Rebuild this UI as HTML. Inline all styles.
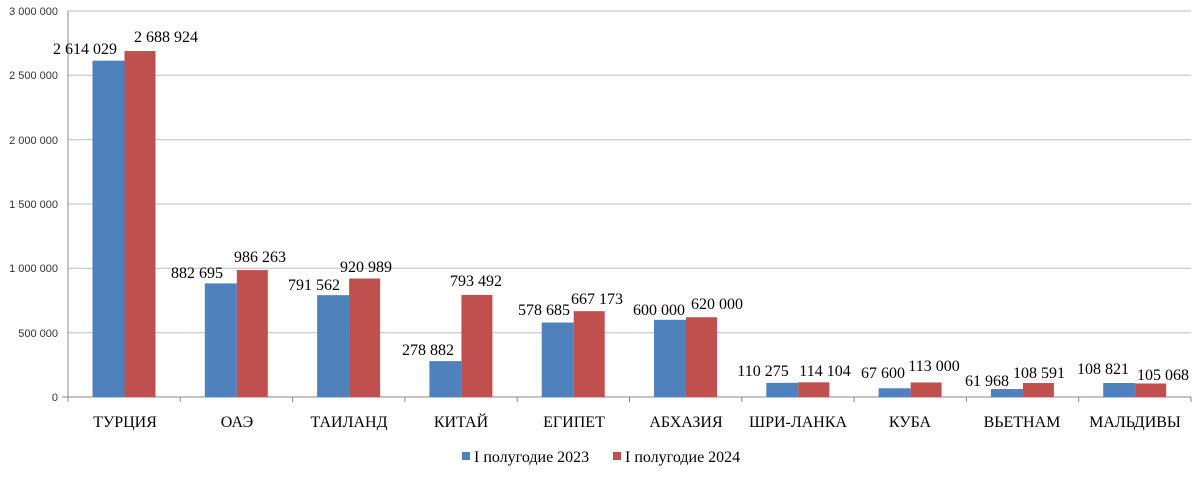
<!DOCTYPE html><html><head><meta charset="utf-8"><style>body{margin:0;background:#fff}text{font-family:"Liberation Serif",serif;font-size:16px;fill:#000}.y{font-family:"Liberation Sans",sans-serif;font-size:11px;fill:#333;text-anchor:end}.c{text-anchor:middle}</style></head><body>
<svg width="1200" height="474" xmlns="http://www.w3.org/2000/svg">
<g stroke="#bdbdbd">
<line x1="68" x2="1191" y1="11" y2="11"/><line x1="68" x2="1191" y1="75.3" y2="75.3"/><line x1="68" x2="1191" y1="139.7" y2="139.7"/><line x1="68" x2="1191" y1="204" y2="204"/><line x1="68" x2="1191" y1="268.3" y2="268.3"/><line x1="68" x2="1191" y1="332.7" y2="332.7"/>
</g>
<g stroke="#888">
<line x1="62" x2="1191" y1="397" y2="397"/><line x1="68" x2="68" y1="11" y2="402"/>
<line x1="180.3" x2="180.3" y1="397" y2="402"/><line x1="292.6" x2="292.6" y1="397" y2="402"/><line x1="404.9" x2="404.9" y1="397" y2="402"/><line x1="517.2" x2="517.2" y1="397" y2="402"/><line x1="629.5" x2="629.5" y1="397" y2="402"/><line x1="741.8" x2="741.8" y1="397" y2="402"/><line x1="854.1" x2="854.1" y1="397" y2="402"/><line x1="966.4" x2="966.4" y1="397" y2="402"/><line x1="1078.7" x2="1078.7" y1="397" y2="402"/><line x1="1191" x2="1191" y1="397" y2="402"/>
</g>
<text class="y" x="58" y="15">3 000 000</text><text class="y" x="58" y="79">2 500 000</text><text class="y" x="58" y="144">2 000 000</text><text class="y" x="58" y="208">1 500 000</text><text class="y" x="58" y="272">1 000 000</text><text class="y" x="58" y="337">500 000</text><text class="y" x="58" y="401">0</text>
<g fill="#4f81bd">
<rect x="92.5" y="60.65" width="32" height="336.35"/><rect x="204.8" y="283.42" width="32" height="113.58"/><rect x="317.1" y="295.15" width="32" height="101.85"/><rect x="429.4" y="361.12" width="32" height="35.88"/><rect x="541.7" y="322.54" width="32" height="74.46"/><rect x="654" y="319.8" width="32" height="77.2"/><rect x="766.3" y="382.81" width="32" height="14.19"/><rect x="878.6" y="388.3" width="32" height="8.7"/><rect x="990.9" y="389.03" width="32" height="7.97"/><rect x="1103.2" y="383" width="32" height="14"/>
</g>
<g fill="#c0504d">
<rect x="124.5" y="51.02" width="31" height="345.98"/><rect x="236.8" y="270.1" width="31" height="126.9"/><rect x="349.1" y="278.5" width="31" height="118.5"/><rect x="461.4" y="294.9" width="31" height="102.1"/><rect x="573.7" y="311.16" width="31" height="85.84"/><rect x="686" y="317.23" width="31" height="79.77"/><rect x="798.3" y="382.32" width="31" height="14.68"/><rect x="910.6" y="382.46" width="31" height="14.54"/><rect x="1022.9" y="383.03" width="31" height="13.97"/><rect x="1135.2" y="383.48" width="31" height="13.52"/>
</g>
<text class="c" x="85" y="54">2 614 029</text><text class="c" x="166" y="42">2 688 924</text>
<text class="c" x="197" y="278">882 695</text><text class="c" x="260" y="262">986 263</text>
<text class="c" x="314" y="290">791 562</text><text class="c" x="366" y="272">920 989</text>
<text class="c" x="428" y="355">278 882</text><text class="c" x="476" y="286">793 492</text>
<text class="c" x="544" y="315">578 685</text><text class="c" x="597" y="304">667 173</text>
<text class="c" x="659" y="315">600 000</text><text class="c" x="717" y="309">620 000</text>
<text class="c" x="763" y="376">110 275</text><text class="c" x="825" y="376">114 104</text>
<text class="c" x="883" y="378">67 600</text><text class="c" x="934" y="371">113 000</text>
<text class="c" x="987" y="386">61 968</text><text class="c" x="1039" y="378">108 591</text>
<text class="c" x="1103" y="374">108 821</text><text class="c" x="1163" y="380">105 068</text>
<text class="c" x="125" y="427">ТУРЦИЯ</text><text class="c" x="237" y="427">ОАЭ</text><text class="c" x="349" y="427">ТАИЛАНД</text><text class="c" x="461" y="427">КИТАЙ</text><text class="c" x="574" y="427">ЕГИПЕТ</text><text class="c" x="686" y="427">АБХАЗИЯ</text><text class="c" x="798" y="427">ШРИ-ЛАНКА</text><text class="c" x="910" y="427">КУБА</text><text class="c" x="1022" y="427">ВЬЕТНАМ</text><text class="c" x="1135" y="427">МАЛЬДИВЫ</text>
<rect x="462" y="452" width="8" height="8" fill="#4f81bd"/><text x="474" y="462">I полугодие 2023</text>
<rect x="613" y="452" width="8" height="8" fill="#c0504d"/><text x="625" y="462">I полугодие 2024</text>
</svg></body></html>
